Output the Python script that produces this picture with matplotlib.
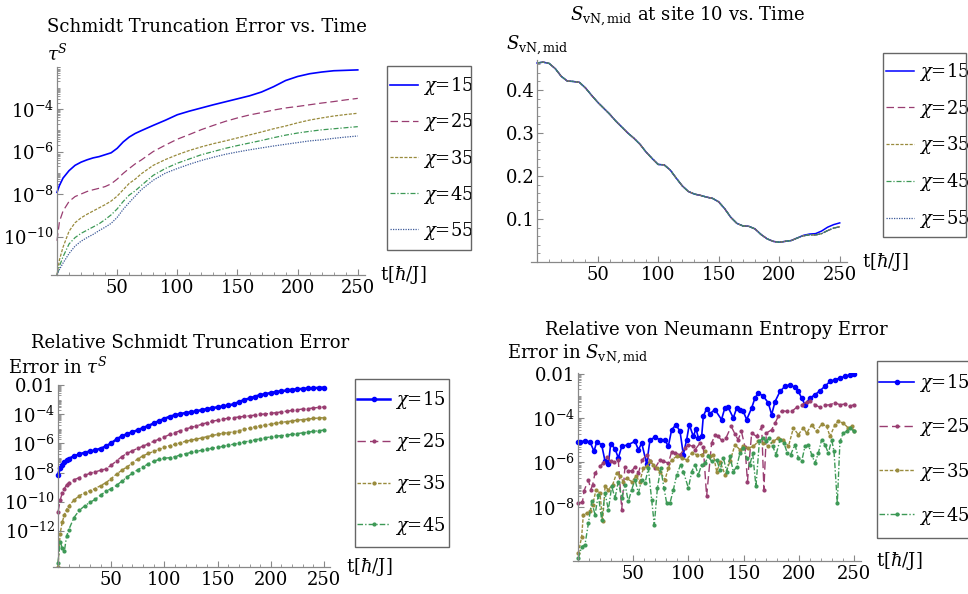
import numpy as np
import matplotlib
matplotlib.use("Agg")
import matplotlib.pyplot as plt
from matplotlib.ticker import FixedLocator, MultipleLocator, NullFormatter
from matplotlib.patches import Rectangle

plt.rcParams['font.family'] = ['DejaVu Serif']
plt.rcParams['mathtext.fontset'] = 'dejavuserif'

W, H = 968, 594

# ---- data -------------------------------------------------------------
chi_labels = [r'$\chi$=15', r'$\chi$=25', r'$\chi$=35', r'$\chi$=45', r'$\chi$=55']

# panel 1: Schmidt truncation error, log10 values
t1 = [0, 2, 5, 10, 15, 20, 25, 30, 35, 40, 45, 50, 55, 60, 65, 70, 80, 90, 100,
      110, 120, 130, 140, 150, 160, 170, 180, 190, 200, 210, 220, 230, 240, 250]
tau_15 = [-7.92, -7.6, -7.25, -6.9, -6.65, -6.5, -6.39, -6.3, -6.24, -6.15, -6.06, -5.85,
          -5.55, -5.32, -5.15, -5.02, -4.77, -4.53, -4.27, -4.1, -3.95, -3.8, -3.66, -3.52,
          -3.38, -3.2, -2.95, -2.66, -2.47, -2.34, -2.26, -2.2, -2.18, -2.16]
tau_25 = [-10.2, -9.3, -8.8, -8.35, -8.12, -8.0, -7.88, -7.8, -7.73, -7.65, -7.52, -7.3,
          -7.03, -6.8, -6.58, -6.4, -6.0, -5.7, -5.42, -5.2, -4.97, -4.77, -4.58, -4.42,
          -4.28, -4.17, -4.05, -3.95, -3.88, -3.8, -3.72, -3.65, -3.57, -3.5]
tau_35 = [-11.8, -11.1, -10.5, -9.75, -9.35, -9.12, -8.95, -8.8, -8.65, -8.5, -8.33, -8.1,
          -7.8, -7.5, -7.3, -7.05, -6.65, -6.38, -6.15, -5.95, -5.78, -5.63, -5.5, -5.36,
          -5.22, -5.08, -4.93, -4.8, -4.65, -4.52, -4.42, -4.33, -4.26, -4.2]
tau_45 = [-11.8, -11.4, -10.95, -10.35, -10.05, -9.85, -9.7, -9.55, -9.4, -9.2, -8.98, -8.7,
          -8.35, -8.05, -7.85, -7.6, -7.12, -6.8, -6.55, -6.35, -6.15, -6.0, -5.85, -5.72,
          -5.6, -5.48, -5.35, -5.23, -5.13, -5.05, -4.98, -4.93, -4.88, -4.83]
tau_55 = [-11.8, -11.55, -11.25, -10.8, -10.45, -10.22, -10.05, -9.9, -9.72, -9.56, -9.38, -9.1,
          -8.72, -8.4, -8.1, -7.8, -7.35, -7.02, -6.8, -6.6, -6.42, -6.27, -6.13, -6.02,
          -5.92, -5.83, -5.74, -5.66, -5.58, -5.5, -5.45, -5.38, -5.32, -5.27]

# panel 2: mid-chain entropy, t = 0, 5, ..., 250
t2 = np.arange(0, 255, 5)
s_head = [0.463, 0.465, 0.462, 0.450, 0.432, 0.421, 0.420, 0.418, 0.405, 0.388, 0.372,
          0.358, 0.344, 0.328, 0.314, 0.300, 0.288, 0.274, 0.256, 0.241, 0.227, 0.226,
          0.214, 0.195, 0.177, 0.164, 0.158, 0.155, 0.151, 0.148, 0.140, 0.124, 0.104,
          0.090, 0.084, 0.083, 0.077, 0.064, 0.054, 0.048, 0.046, 0.048, 0.050, 0.056]
s_tail_15 = [0.062, 0.065, 0.066, 0.072, 0.081, 0.087, 0.091]
s_tail_rest = [0.061, 0.063, 0.063, 0.066, 0.073, 0.079, 0.082]

# panel 3: relative Schmidt truncation error, log10 values
t3 = [0, 2, 4, 6, 8, 10] + list(range(15, 255, 5))
rel_15 = [-8.14, -7.7, -7.45, -7.28, -7.15, -7.05, -6.88, -6.75, -6.63, -6.55, -6.47, -6.35,
          -6.2, -5.98, -5.72, -5.5, -5.35, -5.22, -5.08, -4.93, -4.78, -4.62, -4.45, -4.3,
          -4.15, -4.05, -3.97, -3.9, -3.85, -3.78, -3.7, -3.63, -3.57, -3.5, -3.45, -3.38,
          -3.3, -3.15, -3.0, -2.9, -2.78, -2.66, -2.6, -2.52, -2.45, -2.4, -2.35, -2.3,
          -2.27, -2.24, -2.21, -2.19, -2.17, -2.16]
rel_25 = [-10.74, -9.9, -9.4, -9.1, -8.85, -8.7, -8.5, -8.35, -8.2, -8.05, -7.95, -7.85,
          -7.75, -7.5, -7.2, -6.9, -6.68, -6.5, -6.33, -6.18, -6.02, -5.85, -5.7, -5.55,
          -5.38, -5.25, -5.12, -5.0, -4.9, -4.8, -4.68, -4.57, -4.47, -4.4, -4.32, -4.27,
          -4.22, -4.18, -4.14, -4.1, -4.05, -4.0, -3.97, -3.93, -3.88, -3.83, -3.78, -3.73,
          -3.68, -3.63, -3.6, -3.56, -3.52, -3.49]
rel_35 = [-14.5, -12.2, -11.4, -10.9, -10.55, -10.3, -9.9, -9.6, -9.4, -9.25, -9.1, -8.9,
          -8.7, -8.42, -8.1, -7.85, -7.6, -7.35, -7.05, -6.85, -6.68, -6.55, -6.4, -6.27,
          -6.15, -6.05, -5.95, -5.85, -5.77, -5.7, -5.62, -5.53, -5.45, -5.38, -5.3, -5.25,
          -5.2, -5.12, -5.03, -4.95, -4.85, -4.78, -4.73, -4.67, -4.6, -4.55, -4.5, -4.45,
          -4.4, -4.36, -4.32, -4.28, -4.25, -4.22]
rel_45 = [-14.2, -12.75, -13.2, -13.4, -12.4, -11.95, -11.1, -10.6, -10.3, -10.05, -9.85, -9.55,
          -9.3, -9.1, -8.88, -8.6, -8.3, -8.05, -7.8, -7.6, -7.4, -7.22, -7.1, -7.02,
          -6.98, -6.9, -6.8, -6.7, -6.62, -6.55, -6.47, -6.4, -6.33, -6.27, -6.2, -6.13,
          -6.05, -5.98, -5.9, -5.83, -5.75, -5.68, -5.6, -5.55, -5.5, -5.46, -5.42, -5.37,
          -5.32, -5.27, -5.22, -5.17, -5.12, -5.08]

# panel 4: relative entropy error, (t, log10 value) pairs
ent_15 = [(0, -5.1), (1.8, -5.08), (6.3, -5.02), (10.9, -5.08), (14.5, -5.5), (16.9, -5.08),
          (21.4, -5.2), (24.5, -5.95), (27.5, -6.07), (29.6, -5.17), (33.5, -5.38), (36.5, -5.8),
          (39.6, -5.28), (45.6, -5.2), (51.6, -5.05), (54.7, -5.43), (57.7, -5.13), (62.2, -6.07),
          (65.2, -4.98), (69.7, -4.87), (74.3, -4.98), (78.8, -4.98), (81.8, -5.28), (84.8, -4.53),
          (88.8, -4.3), (92.4, -4.6), (95.4, -5.65), (98.4, -4.98), (100.8, -4.3), (104.5, -4.83),
          (106.9, -4.48), (109, -4.9), (112, -4.83), (113.5, -3.92), (116.5, -3.58), (119.6, -3.8),
          (124, -3.62), (130, -4.07), (133, -3.55), (136, -3.52), (140.7, -4.0), (143.7, -3.55),
          (146.7, -3.62), (149.7, -3.7), (152.8, -4.07), (157.3, -3.55), (160.3, -3.1),
          (163.4, -2.87), (167.9, -3.02), (172.4, -3.32), (175.4, -3.85), (178.5, -3.26),
          (183, -2.8), (187.5, -2.57), (192, -2.5), (196.6, -2.62), (199.6, -2.8), (202.6, -3.1),
          (205.6, -3.4), (210.1, -3.1), (214.7, -2.95), (219.2, -2.77), (223.7, -2.57),
          (228.3, -2.35), (232.8, -2.27), (237.3, -2.2), (241.8, -2.12), (246.4, -2.05), (250, -2.0)]
ent_25 = [(0, -7.85), (4, -7.78), (5.5, -7.28), (9.4, -6.78), (11.5, -7.23), (13.3, -7.0),
          (15.4, -6.48), (19.9, -6.18), (22.9, -6.03), (26, -5.77), (29.6, -5.95), (33, -6.0),
          (36.5, -5.9), (39.6, -8.13), (42.5, -6.2), (45.6, -6.38), (48.6, -6.38), (51.6, -6.2),
          (54.7, -6.48), (58, -5.9), (62.2, -5.65), (65.2, -5.95), (69.7, -6.26), (74.3, -5.88),
          (77.3, -5.95), (81.8, -6.03), (84.8, -5.53), (87.9, -5.58), (92.4, -5.65), (97, -5.35),
          (100, -5.2), (104, -5.28), (106, -5.43), (110.5, -5.13), (113.5, -5.3), (116.5, -7.53),
          (121, -5.13), (124, -4.78), (127, -4.83), (130, -5.0), (134, -4.9), (138.8, -4.38),
          (142, -4.7), (145, -4.98), (148, -4.6), (151.3, -5.3), (153.5, -6.86), (157.3, -4.68),
          (161.8, -4.83), (166.4, -4.38), (168.4, -7.23), (170.6, -4.68), (175.4, -4.53),
          (178.5, -4.23), (181.5, -3.92), (184.5, -3.67), (189, -3.7), (193.6, -3.7),
          (198.1, -3.52), (202.6, -3.4), (207.1, -3.28), (210.1, -3.25), (214.7, -3.4),
          (219.2, -3.52), (223.7, -3.43), (228.3, -3.4), (232.8, -3.32), (237.3, -3.4),
          (241.8, -3.37), (246.4, -3.47), (250, -3.4)]
ent_35 = [(0.3, -10.09), (3.3, -9.34), (4.8, -8.36), (7.8, -8.29), (10.9, -8.21), (13.3, -7.91),
          (16.3, -7.23), (19.9, -7.38), (22.3, -8.66), (24.5, -7.08), (27.5, -7.23), (31.4, -7.0),
          (35, -6.48), (38, -6.63), (41, -6.86), (44, -6.71), (48.6, -6.86), (52.5, -6.63),
          (56, -6.86), (59.2, -6.26), (62.2, -6.18), (65.2, -5.95), (68.2, -6.1), (71.3, -6.26),
          (74.3, -6.41), (78.8, -6.78), (81.8, -6.26), (84.8, -5.88), (89.4, -5.73), (93.9, -5.8),
          (98.4, -5.88), (103, -5.58), (107.5, -5.65), (112, -5.65), (115, -5.5), (119.6, -5.73),
          (122.6, -5.65), (125.6, -6.41), (129, -6.0), (133.2, -6.56), (137.7, -5.95),
          (142.2, -5.2), (146.7, -5.43), (149.7, -5.28), (154.3, -5.35), (158.8, -5.28),
          (163.4, -5.05), (167.9, -5.13), (172.4, -5.28), (177, -5.05), (181.5, -4.9),
          (186, -4.98), (190.6, -5.28), (195.1, -4.45), (199.6, -4.75), (204.1, -4.45),
          (207.1, -4.68), (211.7, -4.3), (216.2, -4.6), (220.7, -4.27), (225.3, -4.38),
          (228.3, -4.83), (232.8, -4.3), (235.8, -4.15), (240.3, -4.23), (244.9, -4.45),
          (247.9, -4.38), (250, -4.6)]
ent_45 = [(0.3, -10.32), (3.3, -9.79), (6.3, -9.71), (9.4, -8.74), (12.4, -7.76), (15.4, -8.36),
          (18.4, -7.46), (21.4, -8.59), (24.5, -7.38), (27.5, -8.14), (30.5, -7.08), (33.5, -7.61),
          (36.5, -6.86), (39.6, -7.61), (42.6, -7.0), (45.6, -7.76), (48.6, -7.23), (51.6, -6.78),
          (54.7, -7.38), (57.7, -6.78), (60.7, -6.93), (63.7, -6.26), (66.7, -7.68), (69.1, -8.81),
          (71.9, -7.16), (74.9, -6.26), (77.9, -7.16), (80.3, -7.83), (83.3, -7.83), (86.4, -7.23),
          (89.4, -6.56), (93, -6.1), (95.4, -6.41), (100, -7.16), (103, -6.41), (106, -6.1),
          (109, -6.56), (112, -6.1), (115, -6.03), (118, -5.73), (121, -5.95), (125.6, -5.88),
          (128.6, -6.33), (131.7, -5.8), (134.7, -6.41), (137.7, -5.73), (140.7, -6.41),
          (143.7, -6.2), (146.7, -5.58), (149.7, -5.35), (152.8, -5.8), (155.8, -6.1),
          (158.2, -5.58), (161.2, -7.08), (164.3, -5.05), (167.3, -4.9), (170.3, -5.05),
          (173.3, -4.9), (176.4, -5.28), (179.4, -5.65), (183, -4.98), (186.6, -5.13),
          (189.6, -5.58), (192.6, -5.65), (196.6, -5.2), (199.6, -5.8), (202.6, -5.95),
          (205.6, -5.28), (208.6, -5.2), (211.7, -5.65), (214.7, -6.03), (217.7, -5.58),
          (220.7, -4.98), (223.7, -5.2), (226.8, -5.58), (229.8, -4.98), (231.9, -5.5),
          (234.9, -7.83), (237.3, -5.05), (240.3, -4.68), (243.4, -4.6), (246.4, -4.45), (250, -4.6)]

# ---- styles -----------------------------------------------------------
colors = ['#0000ff', '#993d71', '#998b3d', '#3d9956', '#3d5a99']
dashes = ['-', (0, (6, 3)), (0, (2.5, 1.2)), (0, (4, 1.5, 1, 1.5)), (0, (1, 1))]
AXC = '#888888'
FS = 13

fig = plt.figure(figsize=(W / 100, H / 100), dpi=100)


def make_axes(l, t, r, b):
    return fig.add_axes([l / W, 1 - b / H, (r - l) / W, (b - t) / H])


def style_axes(ax, ylabel, yoff=3):
    ax.set_xlim(-5, 256)
    for s in ('top', 'right'):
        ax.spines[s].set_visible(False)
    ax.spines['left'].set_position(('data', 0))
    for s in ('left', 'bottom'):
        ax.spines[s].set_color(AXC)
        ax.spines[s].set_linewidth(0.9)
    ax.xaxis.set_major_locator(FixedLocator([50, 100, 150, 200, 250]))
    ax.xaxis.set_minor_locator(MultipleLocator(10))
    ax.tick_params(which='both', direction='in', color=AXC, labelsize=FS)
    ax.tick_params(which='major', length=4.5, width=0.8)
    ax.tick_params(which='minor', length=2.2, width=0.6)
    ax.tick_params(axis='x', pad=3)
    ax.tick_params(axis='y', pad=2)
    ax.patch.set_alpha(0)
    ax.annotate(ylabel, xy=(0, 1), xycoords=ax.get_xaxis_transform(),
                xytext=(0, yoff), textcoords='offset points', ha='center', va='bottom',
                fontsize=FS)
    ax.annotate(r't[$\hbar$/J]', xy=(1, 0), xycoords='axes fraction',
                xytext=(11, 0), textcoords='offset points', ha='left', va='center',
                fontsize=FS)


def log_ticks(ax, lo, hi, majors, labels):
    ax.set_yscale('log')
    ax.set_ylim(10.0 ** lo, 10.0 ** hi)
    ax.yaxis.set_major_locator(FixedLocator([10.0 ** m for m in majors]))
    ax.set_yticklabels(labels)
    minors = [k * 10.0 ** e for e in range(int(np.floor(lo)) - 1, int(np.ceil(hi)) + 1)
              for k in range(1, 10)]
    minors = [m for m in minors if 10.0 ** lo <= m <= 10.0 ** hi
              and not any(np.isclose(m, 10.0 ** j) for j in majors)]
    ax.yaxis.set_minor_locator(FixedLocator(minors))
    ax.yaxis.set_minor_formatter(NullFormatter())


def add_legend(ax, x_line, y_mid, gap, hl, box):
    ax.legend(loc='center left', bbox_to_anchor=(x_line / W, 1 - y_mid / H),
              bbox_transform=fig.transFigure, frameon=False, borderpad=0,
              borderaxespad=0, handlelength=hl, handletextpad=0.3,
              labelspacing=gap, fontsize=FS)
    x0, y0, x1, y1 = box
    fig.add_artist(Rectangle((x0 / W, 1 - y1 / H), (x1 - x0) / W, (y1 - y0) / H,
                             transform=fig.transFigure, fill=False, ec='#666666', lw=1.0))


# ---- panel 1 ----------------------------------------------------------
ax1 = make_axes(51, 66.5, 365, 275)
for vals, c, d, lab in zip([tau_15, tau_25, tau_35, tau_45, tau_55], colors, dashes, chi_labels):
    ax1.plot(t1, 10.0 ** np.array(vals), color=c, ls=d, lw=1.2 if d == '-' else 0.9, label=lab)
log_ticks(ax1, -11.81, -2.0, [-4, -6, -8, -10],
          [r'$10^{-4}$', r'$10^{-6}$', r'$10^{-8}$', r'$10^{-10}$'])
style_axes(ax1, r'$\tau^S$', yoff=2)
add_legend(ax1, 390, 158.5, 0.78, 1.55, (387, 66, 471, 250))
fig.text(207 / W, 1 - 27 / H, 'Schmidt Truncation Error vs. Time', ha='center', va='center',
         fontsize=FS)

# ---- panel 2 ----------------------------------------------------------
ax2 = make_axes(531, 60, 847, 262)
s_15 = s_head + s_tail_15
s_rest = s_head + s_tail_rest
for i, (c, d, lab) in enumerate(zip(colors, dashes, chi_labels)):
    ax2.plot(t2, s_15 if i == 0 else s_rest, color=c, ls=d, lw=1.1 if i == 0 else 0.9,
             label=lab)
ax2.set_ylim(0, 0.47)
ax2.yaxis.set_major_locator(FixedLocator([0.1, 0.2, 0.3, 0.4]))
ax2.yaxis.set_minor_locator(MultipleLocator(0.02))
style_axes(ax2, r'$S_{\mathrm{vN,mid}}$', yoff=2)
add_legend(ax2, 886, 145.5, 0.82, 1.55, (883, 53, 966, 237))
fig.text(688 / W, 1 - 16 / H, r'$S_{\mathrm{vN,mid}}$ at site 10 vs. Time', ha='center',
         va='center', fontsize=FS)

# ---- panel 3 ----------------------------------------------------------
ax3 = make_axes(52.7, 384.6, 330.4, 567)
for vals, c, d, lab in zip([rel_15, rel_25, rel_35, rel_45], colors, dashes, chi_labels):
    blue = d == '-'
    ax3.plot(t3, 10.0 ** np.array(vals), color=c, ls=d, lw=1.8 if blue else 1.0,
             marker='o', ms=3.0 if blue else 2.0, label=lab)
log_ticks(ax3, -14.5, -1.95, [-2, -4, -6, -8, -10, -12],
          ['0.01', r'$10^{-4}$', r'$10^{-6}$', r'$10^{-8}$', r'$10^{-10}$', r'$10^{-12}$'])
style_axes(ax3, r'Error in $\tau^S$', yoff=6)
add_legend(ax3, 357, 463, 1.09, 1.83, (355, 379, 449, 547))
fig.text(190 / W, 1 - 343 / H, 'Relative Schmidt Truncation Error', ha='center', va='center',
         fontsize=FS)

# ---- panel 4 ----------------------------------------------------------
ax4 = make_axes(572.5, 372.5, 860.6, 561)
for pairs, c, d, lab in zip([ent_15, ent_25, ent_35, ent_45], colors, dashes, chi_labels):
    tt, vv = np.array(pairs).T
    blue = d == '-'
    ax4.plot(tt, 10.0 ** vv, color=c, ls=d, lw=1.2 if blue else 1.0,
             marker='o', ms=3.0 if blue else 2.0, label=lab)
log_ticks(ax4, -10.44, -1.95, [-2, -4, -6, -8],
          ['0.01', r'$10^{-4}$', r'$10^{-6}$', r'$10^{-8}$'])
style_axes(ax4, r'Error in $S_{\mathrm{vN,mid}}$', yoff=5)
add_legend(ax4, 879, 449.5, 1.22, 1.94, (877, 361, 990, 538))
fig.text(716 / W, 1 - 330 / H, 'Relative von Neumann Entropy Error', ha='center', va='center',
         fontsize=FS)

fig.savefig('out.png', dpi=100)
